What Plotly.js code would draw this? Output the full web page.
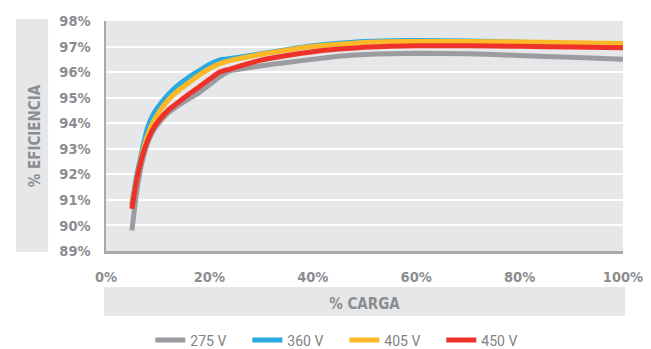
<!DOCTYPE html>
<html>
<head>
<meta charset="utf-8">
<script src="https://cdn.plot.ly/plotly-3.0.1.min.js"></script>
<style>html,body{margin:0;padding:0;background:#fff;}#chart{width:651px;height:349px;}</style>
</head>
<body>
<div id="chart"></div>
<script>
var loadPct = [5, 6, 7, 8, 9, 10, 12, 14, 16, 18, 20, 22, 24, 27, 30, 35, 40, 45, 50, 55, 60, 70, 80, 90, 100];
var eff275 = [89.8, 91.4, 92.5, 93.2, 93.65, 93.95, 94.4, 94.7, 94.95, 95.2, 95.5, 95.82, 96.05, 96.15, 96.25, 96.38, 96.5, 96.62, 96.69, 96.72, 96.74, 96.72, 96.65, 96.58, 96.5];
var eff360 = [90.85, 92.0, 92.95, 93.8, 94.3, 94.62, 95.12, 95.5, 95.8, 96.05, 96.3, 96.48, 96.53, 96.62, 96.72, 96.88, 97.03, 97.13, 97.2, 97.23, 97.24, 97.22, 97.17, 97.11, 97.05];
var eff405 = [90.8, 91.85, 92.8, 93.5, 94.0, 94.35, 94.9, 95.28, 95.58, 95.88, 96.13, 96.33, 96.45, 96.58, 96.7, 96.86, 97.0, 97.09, 97.16, 97.19, 97.2, 97.2, 97.18, 97.15, 97.12];
var eff450 = [90.65, 91.85, 92.7, 93.3, 93.75, 94.05, 94.5, 94.82, 95.13, 95.42, 95.72, 96.0, 96.12, 96.3, 96.47, 96.65, 96.8, 96.9, 96.97, 97.01, 97.03, 97.03, 97.01, 96.98, 96.95];
var seriesNames = ["275 V", "360 V", "405 V", "450 V"];
var xTickVals = [0, 20, 40, 60, 80, 100];
var xTickText = ["0%", "20%", "40%", "60%", "80%", "100%"];
var yTickVals = [89, 90, 91, 92, 93, 94, 95, 96, 97, 98];
var yTickText = ["89%", "90%", "91%", "92%", "93%", "94%", "95%", "96%", "97%", "98%"];

var colors = ["#9a9c9f", "#29abe2", "#fcb827", "#ee3229"];
var series = [eff275, eff360, eff405, eff450];
var traces = series.map(function (s, i) {
  return {
    x: loadPct, y: s, name: seriesNames[i], type: "scatter", mode: "lines",
    line: {color: colors[i], width: 5, shape: "spline", smoothing: 0.5},
    hoverinfo: "skip"
  };
});

var condFam = "DejaVu Sans Condensed, DejaVu Sans, sans-serif";
var tickFont = {family: condFam, size: 14.5, color: "#8b8d90", weight: 700};
var bandColor = "#e6e7e8";

var layout = {
  width: 651, height: 349,
  margin: {l: 106, r: 28, t: 21, b: 98, pad: 0, autoexpand: false},
  paper_bgcolor: "#ffffff",
  plot_bgcolor: bandColor,
  showlegend: true,
  xaxis: {
    range: [0, 100], fixedrange: true, automargin: false,
    tickmode: "array", tickvals: xTickVals, ticktext: xTickText,
    showgrid: false, zeroline: false,
    showline: true, linecolor: "#a7a9ac", linewidth: 2.5,
    ticks: "", ticklabelstandoff: 11,
    tickfont: tickFont,
    title: {text: "% CARGA", font: {family: condFam, size: 15, color: "#8b8d90", weight: 700}, standoff: 15}
  },
  yaxis: {
    range: [89, 98], fixedrange: true, automargin: false,
    tickmode: "array", tickvals: yTickVals, ticktext: yTickText,
    showgrid: true, gridcolor: "#ffffff", gridwidth: 2,
    zeroline: false,
    showline: true, linecolor: "#a7a9ac", linewidth: 2.5,
    ticks: "", ticklabelstandoff: 10,
    tickfont: tickFont,
    title: {text: "% EFICIENCIA", font: {family: condFam, size: 15, color: "#8b8d90", weight: 700}, standoff: 15}
  },
  legend: {
    orientation: "h", xref: "paper", yref: "container",
    x: 0.461, xanchor: "center", y: 0.0244, yanchor: "middle",
    font: {family: "Roboto, sans-serif", size: 14, color: "#808285"},
    entrywidth: 52, bgcolor: "rgba(0,0,0,0)"
  },
  shapes: [
    {type: "rect", xref: "paper", yref: "paper", x0: -0.174, x1: -0.112, y0: -0.004, y1: 1.009, fillcolor: bandColor, line: {width: 0}, layer: "below"},
    {type: "rect", xref: "paper", yref: "paper", x0: -0.004, x1: 1.004, y0: -0.283, y1: -0.157, fillcolor: bandColor, line: {width: 0}, layer: "below"}
  ]
};

Plotly.newPlot("chart", traces, layout, {displayModeBar: false, staticPlot: true});
</script>
</body>
</html>
